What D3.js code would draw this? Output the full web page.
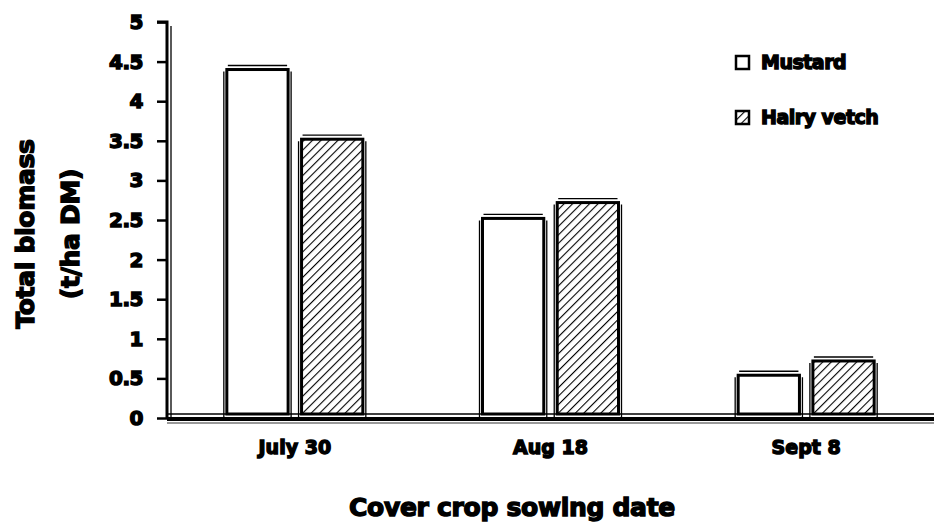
<!DOCTYPE html>
<html lang="en">
<head>
<meta charset="UTF-8">
<title>Total biomass by sowing date</title>
<script src="https://d3js.org/d3.v7.min.js"></script>
<style>
    body { margin: 0; background: #fff; }
    text { font-family: 'DejaVu Sans', Arial, sans-serif; font-weight: bold; fill: #000; }
    .halo { stroke: #000; stroke-width: 1.4px; }
</style>
</head>
<body>
<div id="chart"></div>
<script>
// data
const dates = ["July 30", "Aug 18", "Sept 8"];
const seriesNames = ["Mustard", "Hairy vetch"];
const mustard = [4.4, 2.52, 0.54];
const hairyVetch = [3.52, 2.72, 0.72];
const yTicks = [0, 0.5, 1, 1.5, 2, 2.5, 3, 3.5, 4, 4.5, 5];

const W = 934, H = 529;
const margin = {top: 22, right: 0, bottom: 109, left: 167};
const width = W - margin.left - margin.right,
      height = H - margin.top - margin.bottom;

const svg = d3.select("#chart").append("svg")
    .attr("width", W).attr("height", H);

// hatch pattern for hairy vetch
const defs = svg.append("defs");
defs.append("pattern")
    .attr("id", "hatch")
    .attr("patternUnits", "userSpaceOnUse")
    .attr("width", 6).attr("height", 6)
    .attr("patternTransform", "rotate(45)")
  .append("line")
    .attr("x1", 0).attr("y1", 0).attr("x2", 0).attr("y2", 6)
    .attr("stroke", "#000").attr("stroke-width", 2.2);

const g = svg.append("g")
    .attr("transform", `translate(${margin.left},${margin.top})`);

const x = d3.scaleBand().domain(dates).range([0, width]);
const x1 = d3.scaleBand().domain(seriesNames)
    .range([x.bandwidth() / 2 - 68, x.bandwidth() / 2 + 68])
    .paddingInner(0.18);
const y = d3.scaleLinear().domain([0, 5]).range([height - 2, 0]);

const rows = dates.map((d, i) => ({date: d, values: [mustard[i], hairyVetch[i]]}));

// inner baseline (bar feet), drawn under bars
g.append("line")
    .attr("x1", 0).attr("x2", width)
    .attr("y1", y(0) - 4).attr("y2", y(0) - 4)
    .attr("stroke", "#000").attr("stroke-width", 1.5);

// bars
const groups = g.selectAll(".grp").data(rows).enter().append("g")
    .attr("transform", d => `translate(${x(d.date)},0)`);

groups.selectAll(".ghost")
    .data(d => d.values.map((v, j) => ({name: seriesNames[j], v})))
    .enter().append("path")
    .attr("d", d => {
        const l = x1(d.name) - 3, r = x1(d.name) + x1.bandwidth() + 3, t = y(d.v) - 4;
        return `M${l},${y(0)} L${l},${t + 6} M${l + 4},${t} L${r - 4},${t} M${r},${t + 6} L${r},${y(0)}`;
    })
    .attr("fill", "none").attr("stroke", "#000").attr("stroke-width", 1.3);

groups.selectAll(".bar")
    .data(d => d.values.map((v, j) => ({name: seriesNames[j], v})))
    .enter().append("rect")
    .attr("x", d => x1(d.name))
    .attr("width", x1.bandwidth())
    .attr("y", d => y(d.v))
    .attr("height", d => y(0) - 4 - y(d.v))
    .attr("fill", d => d.name === "Mustard" ? "#fff" : "url(#hatch)")
    .attr("stroke", "#000").attr("stroke-width", 3);

// x axis: thick black line plus a thin grey echo
g.append("line")
    .attr("x1", 0).attr("x2", width)
    .attr("y1", y(0) + 1).attr("y2", y(0) + 1)
    .attr("stroke", "#000").attr("stroke-width", 4);
g.append("line")
    .attr("x1", 0).attr("x2", width)
    .attr("y1", y(0) + 5).attr("y2", y(0) + 5)
    .attr("stroke", "#777").attr("stroke-width", 1.5);

const xAxis = g.append("g")
    .attr("transform", `translate(0,${y(0)})`)
    .call(d3.axisBottom(x).tickSize(0).tickPadding(23));
xAxis.select(".domain").remove();
xAxis.selectAll("text")
    .attr("class", "halo")
    .style("font-size", "19px")
    .style("letter-spacing", "0px")
    .style("font-family", "'DejaVu Sans', Arial, sans-serif")
    .style("font-weight", "bold");

// y axis, with a thin echo line just inside it
g.append("line")
    .attr("x1", 4).attr("x2", 4)
    .attr("y1", y(5) + 4).attr("y2", y(0))
    .attr("stroke", "#000").attr("stroke-width", 1.3);
const yAxis = g.append("g")
    .call(d3.axisLeft(y).tickValues(yTicks).tickSize(10).tickPadding(14)
        .tickFormat(d3.format("~g")));
yAxis.select(".domain")
    .attr("stroke-width", 3)
    .attr("d", `M-10,${y(5)}H0V${y(0)}`);
yAxis.selectAll(".tick line").attr("stroke-width", 2.5);
yAxis.selectAll("text")
    .attr("class", "halo")
    .style("font-size", "20px")
    .style("letter-spacing", "-0.5px")
    .style("font-family", "'DejaVu Sans', Arial, sans-serif")
    .style("font-weight", "bold");

// axis titles
svg.append("text")
    .attr("class", "halo")
    .attr("x", 512).attr("y", 516)
    .attr("text-anchor", "middle")
    .style("font-size", "25px")
    .style("letter-spacing", "-0.3px")
    .text("Cover crop sowing date");

const yTitle = svg.append("text")
    .attr("class", "halo")
    .attr("transform", "translate(0,234) rotate(-90)")
    .attr("text-anchor", "middle")
    .style("font-size", "25px")
    .style("letter-spacing", "-0.3px");
yTitle.append("tspan").attr("x", 0).attr("y", 34).text("Total biomass");
yTitle.append("tspan").attr("x", 0).attr("y", 79).text("(t/ha DM)");

// legend
const legend = svg.append("g").attr("transform", "translate(736,56)");
const li = legend.selectAll(".li").data(seriesNames).enter().append("g")
    .attr("transform", (d, i) => `translate(0,${i * 55})`);
li.append("rect")
    .attr("width", 13).attr("height", 13)
    .attr("fill", (d, i) => i === 0 ? "#fff" : "url(#hatch)")
    .attr("stroke", "#000").attr("stroke-width", 2.5);
li.append("text")
    .attr("class", "halo")
    .attr("x", 25).attr("y", 13)
    .style("font-size", "19px")
    .style("letter-spacing", "-0.5px")
    .text(d => d);
</script>
</body>
</html>
